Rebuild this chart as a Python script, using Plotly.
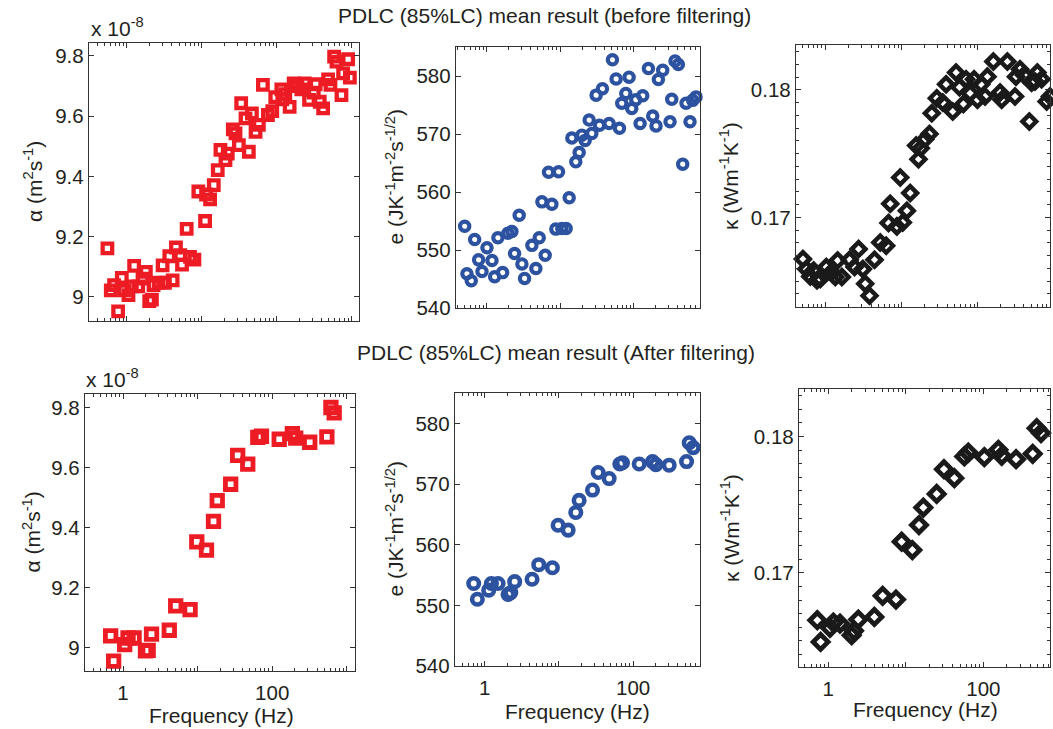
import numpy as np
import plotly.graph_objects as go

# ---------------- data ----------------
# Frequencies stored as log10(Hz); alpha in units of 1e-8 m^2/s
alpha_raw_logf = [-0.259, -0.214, -0.170, -0.116, -0.067, -0.036, 0.022, 0.067, 0.098, 0.152,
                  0.210, 0.254, 0.299, 0.335, 0.357, 0.424, 0.478, 0.509, 0.567, 0.612,
                  0.656, 0.714, 0.737, 0.799, 0.844, 0.902, 0.955, 1.045, 1.058, 1.112,
                  1.161, 1.214, 1.250, 1.317, 1.348, 1.415, 1.451, 1.496, 1.527, 1.585,
                  1.629, 1.670, 1.719, 1.763, 1.817, 1.884, 1.942, 1.982, 2.063, 2.076,
                  2.116, 2.174, 2.228, 2.277, 2.330, 2.375, 2.433, 2.496, 2.522, 2.576,
                  2.621, 2.688, 2.719, 2.768, 2.799, 2.866, 2.888, 2.955, 2.978]
alpha_raw = [9.161, 9.022, 9.039, 8.952, 9.063, 9.022, 9.006, 9.035, 9.103, 9.035,
             9.061, 9.083, 8.986, 8.991, 9.039, 9.047, 9.105, 9.047, 9.135, 9.055,
             9.164, 9.139, 9.107, 9.226, 9.133, 9.124, 9.350, 9.252, 9.340, 9.324,
             9.371, 9.421, 9.488, 9.454, 9.476, 9.556, 9.543, 9.504, 9.643, 9.593,
             9.482, 9.609, 9.548, 9.571, 9.704, 9.604, 9.617, 9.663, 9.689, 9.656,
             9.673, 9.631, 9.709, 9.700, 9.689, 9.709, 9.654, 9.678, 9.706, 9.648,
             9.626, 9.722, 9.704, 9.798, 9.781, 9.670, 9.742, 9.789, 9.728]

e_raw_logf = [-0.299, -0.268, -0.209, -0.163, -0.109, -0.063, 0.005, 0.073, 0.109, 0.154,
              0.218, 0.290, 0.345, 0.381, 0.444, 0.481, 0.517, 0.617, 0.671, 0.717,
              0.753, 0.798, 0.844, 0.889, 0.943, 0.980, 1.025, 1.084, 1.125, 1.161,
              1.215, 1.261, 1.297, 1.342, 1.397, 1.433, 1.492, 1.537, 1.578, 1.669,
              1.714, 1.764, 1.810, 1.841, 1.896, 1.941, 1.977, 2.032, 2.091, 2.127,
              2.204, 2.263, 2.308, 2.340, 2.399, 2.499, 2.522, 2.567, 2.612, 2.671,
              2.717, 2.771, 2.807, 2.853]
e_raw = [554.1, 545.9, 544.7, 551.8, 548.3, 546.3, 550.4, 548.2, 545.4, 552.1,
         546.1, 552.9, 553.2, 549.4, 556.0, 547.6, 545.1, 550.8, 546.8, 552.1,
         558.3, 549.1, 563.4, 557.9, 553.6, 563.5, 553.7, 553.7, 559.0, 569.3,
         565.2, 566.8, 569.8, 568.9, 572.4, 570.1, 576.7, 571.5, 577.8, 571.8,
         582.8, 579.5, 571.0, 575.3, 577.0, 579.8, 574.4, 575.9, 571.8, 576.6,
         581.3, 573.1, 571.4, 579.4, 581.0, 572.1, 576.0, 582.6, 582.0, 564.8,
         575.3, 572.1, 575.8, 576.4]

kappa_raw_logf = [-0.293, -0.249, -0.197, -0.153, -0.109, -0.066, 0.013, 0.079, 0.131, 0.162,
                  0.218, 0.319, 0.384, 0.437, 0.493, 0.524, 0.581, 0.646, 0.721, 0.799,
                  0.830, 0.852, 0.939, 0.983, 1.017, 1.070, 1.114, 1.192, 1.223, 1.253,
                  1.310, 1.367, 1.397, 1.463, 1.541, 1.585, 1.672, 1.716, 1.760, 1.812,
                  1.847, 1.900, 1.952, 1.996, 2.044, 2.096, 2.127, 2.205, 2.293, 2.314,
                  2.389, 2.489, 2.502, 2.555, 2.607, 2.677, 2.707, 2.751, 2.782, 2.838,
                  2.904, 2.948]
kappa_raw = [0.16674, 0.16595, 0.16538, 0.16585, 0.16507, 0.16517, 0.16611, 0.16572, 0.16533, 0.16663,
             0.16533, 0.16668, 0.16611, 0.16752, 0.16595, 0.16480, 0.16386, 0.16668, 0.16804, 0.16778,
             0.16956, 0.17107, 0.16930, 0.17313, 0.16961, 0.17052, 0.17191, 0.17564, 0.17457, 0.17543,
             0.17614, 0.17655, 0.17817, 0.17935, 0.17901, 0.18044, 0.17830, 0.18136, 0.18021, 0.17890,
             0.18084, 0.17974, 0.18084, 0.17922, 0.18044, 0.17948, 0.18104, 0.18222, 0.17979, 0.17922,
             0.18222, 0.17948, 0.18104, 0.18162, 0.18117, 0.17752, 0.18057, 0.18065, 0.18136, 0.18084,
             0.17909, 0.17948]

alpha_filt_logf = [-0.166, -0.126, 0.022, 0.067, 0.148, 0.301, 0.337, 0.382, 0.620, 0.706,
                   0.899, 0.989, 1.119, 1.213, 1.263, 1.443, 1.537, 1.672, 1.807, 1.856,
                   2.094, 2.270, 2.315, 2.503, 2.733, 2.787, 2.831]
alpha_filt = [9.039, 8.955, 9.010, 9.032, 9.032, 8.989, 8.991, 9.045, 9.058, 9.139,
              9.127, 9.353, 9.325, 9.421, 9.490, 9.545, 9.641, 9.612, 9.701, 9.705,
              9.695, 9.714, 9.699, 9.685, 9.703, 9.801, 9.783]

e_filt_logf = [-0.148, -0.099, 0.054, 0.090, 0.180, 0.315, 0.351, 0.404, 0.638, 0.728,
               0.912, 0.989, 1.124, 1.227, 1.272, 1.452, 1.528, 1.676, 1.820, 1.856,
               2.081, 2.261, 2.306, 2.485, 2.719, 2.755, 2.809]
e_filt = [553.6, 551.0, 552.5, 553.6, 553.6, 551.8, 552.1, 553.9, 554.3, 556.7,
          556.2, 563.2, 562.4, 565.3, 567.3, 569.0, 571.9, 570.9, 573.3, 573.5,
          573.3, 573.7, 573.2, 573.1, 573.7, 576.8, 576.0]

kappa_filt_logf = [-0.142, -0.099, 0.022, 0.065, 0.151, 0.301, 0.331, 0.387, 0.594, 0.701,
                   0.873, 0.946, 1.084, 1.170, 1.226, 1.398, 1.492, 1.626, 1.755, 1.806,
                   2.013, 2.194, 2.237, 2.422, 2.637, 2.688, 2.744]
kappa_filt = [0.16652, 0.16493, 0.16596, 0.16635, 0.16627, 0.16542, 0.16574, 0.16657, 0.16676, 0.16831,
              0.16804, 0.17228, 0.17167, 0.17350, 0.17478, 0.17578, 0.17760, 0.17694, 0.17853, 0.17882,
              0.17848, 0.17902, 0.17858, 0.17833, 0.17873, 0.18061, 0.18025]

x_tick_vals = [1, 10, 100, 1000]
x_tick_text = ["1", "", "100", ""]
titles = ["PDLC (85%LC) mean result (before filtering)",
          "PDLC (85%LC) mean result (After filtering)"]
y_titles = ["\u03b1 (m<sup>2</sup>s<sup>-1</sup>)",
            "e (JK<sup>-1</sup>m<sup>-2</sup>s<sup>-1/2</sup>)",
            "\u03ba (Wm<sup>-1</sup>K<sup>-1</sup>)"]
x_title = "Frequency (Hz)"
scale_note = "x 10<sup>-8</sup>"

# ---------------- layout helpers ----------------
W, H = 1053, 729          # target picture size; positions below are in these pixels
H_FIG = 740               # figure height (compensates vertical squeeze seen in the render)
FONT = "Liberation Sans, Arial, Helvetica, sans-serif"
TXT = "#231f20"
AX = "#333333"
RED = "rgb(237,28,36)"
BLUE = "rgb(44,82,160)"
BLACK = "#1a1a1a"
TICK_FS = 20.5


def dx(a, b):
    return [a / W, b / W]


def dy(top, bottom):
    return [1 - bottom / H, 1 - top / H]


minor_x = [k * 10.0 ** d for d in range(-1, 4) for k in range(2, 10)]

panels = [
    dict(logf=alpha_raw_logf, vals=alpha_raw, color=RED, symbol="square-open", size=9.5, lw=4.3,
         xd=dx(89, 359), yd=dy(43, 321), xr=[-0.505, 3.10], yr=[8.92, 9.843], dt=0.2, t0=9.0,
         minor=None, bottom=False),
    dict(logf=e_raw_logf, vals=e_raw, color=BLUE, symbol="circle-open", size=9.3, lw=4.2,
         xd=dx(456, 700), yd=dy(47, 308), xr=[-0.417, 2.907], yr=[540, 585], dt=10, t0=540,
         minor=None, bottom=False),
    dict(logf=kappa_raw_logf, vals=kappa_raw, color=BLACK, symbol="diamond-open", size=10.5, lw=4.5,
         xd=dx(796, 1050), yd=dy(45, 307), xr=[-0.384, 2.948], yr=[0.16298, 0.18352], dt=0.01, t0=0.17,
         minor=0.001, bottom=False),
    dict(logf=alpha_filt_logf, vals=alpha_filt, color=RED, symbol="square-open", size=10.5, lw=4.8,
         xd=dx(85, 355), yd=dy(394, 671), xr=[-0.51, 3.11], yr=[8.922, 9.846], dt=0.2, t0=9.0,
         minor=None, bottom=True),
    dict(logf=e_filt_logf, vals=e_filt, color=BLUE, symbol="circle-open", size=10.5, lw=4.6,
         xd=dx(455, 700), yd=dy(393, 666), xr=[-0.40, 2.90], yr=[540, 585], dt=10, t0=540,
         minor=None, bottom=True),
    dict(logf=kappa_filt_logf, vals=kappa_filt, color=BLACK, symbol="diamond-open", size=11.5, lw=4.8,
         xd=dx(799, 1050), yd=dy(389, 667), xr=[-0.378, 2.86], yr=[0.16309, 0.18348], dt=0.01, t0=0.17,
         minor=0.001, bottom=True),
]

fig = go.Figure()
layout = dict(width=W, height=H_FIG, autosize=False, margin=dict(l=0, r=0, t=0, b=0),
              paper_bgcolor="white", plot_bgcolor="white", showlegend=False,
              font=dict(family=FONT, size=20, color=TXT))

for i, p in enumerate(panels):
    n = "" if i == 0 else str(i + 1)
    fig.add_trace(go.Scatter(
        x=10 ** np.array(p["logf"]), y=p["vals"], mode="markers",
        xaxis="x" + n, yaxis="y" + n, cliponaxis=False,
        marker=dict(symbol=p["symbol"], size=p["size"], color=p["color"],
                    line=dict(width=p["lw"], color=p["color"]))))
    xa = dict(type="log", range=p["xr"], domain=p["xd"], anchor="y" + n,
              tickmode="array", tickvals=x_tick_vals, ticktext=x_tick_text,
              showticklabels=p["bottom"], ticks="inside", ticklen=5, tickwidth=1, tickcolor=AX,
              showline=True, linecolor=AX, linewidth=1.4, mirror="ticks",
              showgrid=False, zeroline=False, ticklabelstandoff=3,
              tickfont=dict(family=FONT, size=TICK_FS, color=TXT),
              minor=dict(tickmode="array", tickvals=minor_x, ticks="inside", ticklen=3,
                         tickwidth=0.8, tickcolor=AX, showgrid=False))
    ya = dict(range=p["yr"], domain=p["yd"], anchor="x" + n, tick0=p["t0"], dtick=p["dt"],
              ticks="inside", ticklen=5, tickwidth=1, tickcolor=AX,
              showline=True, linecolor=AX, linewidth=1.4, mirror="ticks",
              showgrid=False, zeroline=False,
              tickfont=dict(family=FONT, size=TICK_FS, color=TXT))
    if p["minor"]:
        ya["minor"] = dict(dtick=p["minor"], tick0=p["t0"], ticks="inside", ticklen=3,
                           tickwidth=0.8, tickcolor=AX, showgrid=False)
    layout["xaxis" + n] = xa
    layout["yaxis" + n] = ya

ann = []
# titles
ann.append(dict(text=titles[0], x=544 / W, y=1 - 16 / H, xref="paper", yref="paper",
                xanchor="center", yanchor="middle", showarrow=False, font=dict(size=21)))
ann.append(dict(text=titles[1], x=556 / W, y=1 - 352 / H, xref="paper", yref="paper",
                xanchor="center", yanchor="middle", showarrow=False, font=dict(size=21)))
# scale notes
for xx, yy in [(89, 27), (84, 378)]:
    ann.append(dict(text=scale_note, x=xx / W, y=1 - yy / H, xref="paper", yref="paper",
                    xanchor="left", yanchor="middle", showarrow=False, font=dict(size=21)))
# y titles
boxes = [(43, 321), (47, 308), (45, 307), (394, 671), (393, 666), (389, 667)]
for row in range(2):
    for col, xc in enumerate([[33, 394, 729], [31, 394, 730]][row]):
        ybox = boxes[row * 3 + col]
        ann.append(dict(text=y_titles[col], x=xc / W, y=1 - (ybox[0] + ybox[1]) / 2 / H,
                        xref="paper", yref="paper", xanchor="center", yanchor="middle",
                        textangle=-90, showarrow=False, font=dict(size=21)))
# x titles
for xc, yc in [(221, 715), (577, 711), (925, 709)]:
    ann.append(dict(text=x_title, x=xc / W, y=1 - yc / H, xref="paper", yref="paper",
                    xanchor="center", yanchor="middle", showarrow=False, font=dict(size=21)))

layout["annotations"] = ann
fig.update_layout(**layout)
fig.write_html("out.html", config={"displayModeBar": False},
               post_script="document.body.style.margin='0';document.body.style.overflow='hidden';")
